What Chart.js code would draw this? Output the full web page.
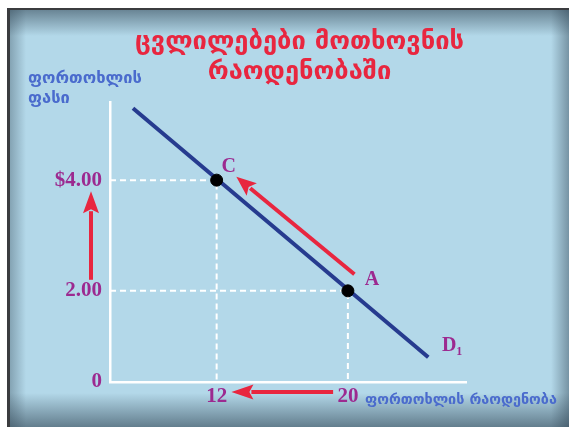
<!DOCTYPE html>
<html>
<head>
<meta charset="utf-8">
<style>
  html, body { margin: 0; padding: 0; background: #fff; }
  #frame {
    position: absolute; left: 7px; top: 8px; width: 562px; height: 419px;
    box-sizing: border-box;
    border-top: 2px solid #3b3c3f; border-left: 3px solid #3b3c3f;
    background:
      linear-gradient(to bottom, rgba(45,65,80,.55), rgba(45,65,80,0) 26px),
      linear-gradient(to top, rgba(45,65,80,.6), rgba(45,65,80,0) 34px),
      linear-gradient(to right, rgba(45,65,80,.35), rgba(45,65,80,0) 16px),
      linear-gradient(to left, rgba(45,65,80,.45), rgba(45,65,80,0) 18px),
      #b3d8e9;
  }
  #wrap { position: absolute; left: 0; top: 0; width: 569px; height: 427px; }
</style>
<script src="https://cdn.jsdelivr.net/npm/chart.js@4"></script>
</head>
<body>
<div id="frame"></div>
<div id="wrap"><canvas id="c" width="569" height="427"></canvas></div>
<script>
// Texts
const titleLines = ['ცვლილებები მოთხოვნის', 'რაოდენობაში'];
const yAxisTitle = ['ფორთოხლის', 'ფასი'];
const xAxisTitle = 'ფორთოხლის რაოდენობა';

// Points on the demand curve
const pointNames = ['C', 'A'];
const quantities = [12, 20];
const prices = [4.00, 2.00];

// Demand curve D1 end points
const demandQty = [6.9, 24.9];
const demandPrice = [5.3, 0.8];

// Axis ranges and ticks
const xRange = [5.5, 27.2];
const yRange = [0.353, 5.40];
const xTickValues = [12, 20];
const xTickLabels = ['12', '20'];
const yTickValues = [yRange[0], 2, 4];
const yTickLabels = ['0', '2.00', '$4.00'];

// Arrows showing the movement from A to C
const priceArrow = [2.2, 3.8];          // price values, tail -> tip
const qtyArrow = [19.1, 12.9];          // quantity values, tail -> tip
const moveArrowQty = [20.4, 13.2];      // tail -> tip
const moveArrowPrice = [2.3, 4.06];

const PURPLE = '#9c2a90';
const RED = '#e8263f';
const NAVY = '#263b8f';
const BLUE = '#4a6bcd';

function guide(i) {
  return {
    data: [
      { x: xRange[0], y: prices[i] },
      { x: quantities[i], y: prices[i] },
      { x: quantities[i], y: yRange[0] }
    ],
    showLine: true, borderColor: '#ffffff', borderWidth: 2,
    borderDash: [6, 4], pointRadius: 0, order: 3, fill: false
  };
}

function arrow(ctx, x1, y1, x2, y2, headLen, headW, lw) {
  const a = Math.atan2(y2 - y1, x2 - x1);
  const bx = x2 - Math.cos(a) * headLen, by = y2 - Math.sin(a) * headLen;
  ctx.save();
  ctx.strokeStyle = RED; ctx.fillStyle = RED; ctx.lineWidth = lw; ctx.lineCap = 'butt';
  ctx.beginPath(); ctx.moveTo(x1, y1); ctx.lineTo(bx + Math.cos(a) * 2, by + Math.sin(a) * 2); ctx.stroke();
  const nx = -Math.sin(a) * headW / 2, ny = Math.cos(a) * headW / 2;
  ctx.beginPath();
  ctx.moveTo(x2, y2);
  ctx.lineTo(bx + nx, by + ny);
  ctx.lineTo(bx + Math.cos(a) * 4, by + Math.sin(a) * 4);
  ctx.lineTo(bx - nx, by - ny);
  ctx.closePath(); ctx.fill();
  ctx.restore();
}

const extras = {
  id: 'extras',
  afterDatasetsDraw(chart) {
    const ctx = chart.ctx, xs = chart.scales.x, ys = chart.scales.y;
    const area = chart.chartArea;

    // arrows
    const ax = area.left - 19;
    arrow(ctx, ax, ys.getPixelForValue(priceArrow[0]), ax, ys.getPixelForValue(priceArrow[1]), 22, 16, 4);
    const ay = area.bottom + 10;
    arrow(ctx, xs.getPixelForValue(qtyArrow[0]), ay, xs.getPixelForValue(qtyArrow[1]), ay, 22, 15, 4);
    arrow(ctx, xs.getPixelForValue(moveArrowQty[0]), ys.getPixelForValue(moveArrowPrice[0]),
               xs.getPixelForValue(moveArrowQty[1]), ys.getPixelForValue(moveArrowPrice[1]), 20, 16, 4);

    // point names
    ctx.save();
    ctx.fillStyle = PURPLE;
    ctx.font = 'bold 20px "Liberation Serif"';
    ctx.textAlign = 'center'; ctx.textBaseline = 'middle';
    const offs = [[12, -13], [24, -11]];
    pointNames.forEach((n, i) => {
      ctx.fillText(n, xs.getPixelForValue(quantities[i]) + offs[i][0], ys.getPixelForValue(prices[i]) + offs[i][1]);
    });
    // curve name D1
    const ex = xs.getPixelForValue(demandQty[1]), ey = ys.getPixelForValue(demandPrice[1]);
    ctx.fillText('D', ex + 21, ey - 11);
    ctx.font = 'bold 12px "Liberation Serif"';
    ctx.fillText('1', ex + 31, ey - 5);

    // axis titles
    ctx.fillStyle = BLUE;
    ctx.font = 'bold 16.5px "DejaVu Sans"';
    ctx.textAlign = 'left';
    ctx.fillText(yAxisTitle[0], 28, 79);
    ctx.fillText(yAxisTitle[1], 28, 99);
    ctx.font = 'bold 14.4px "DejaVu Sans"';
    ctx.fillText(xAxisTitle, 365, 400);
    ctx.restore();
  }
};

new Chart(document.getElementById('c'), {
  type: 'scatter',
  data: {
    datasets: [
      {
        data: pointNames.map((n, i) => ({ x: quantities[i], y: prices[i] })),
        showLine: false, pointRadius: 6, pointHoverRadius: 6,
        pointBackgroundColor: '#000', pointBorderColor: '#000', order: 1
      },
      {
        data: demandQty.map((q, i) => ({ x: q, y: demandPrice[i] })),
        showLine: true, borderColor: NAVY, borderWidth: 4, pointRadius: 0, order: 2, fill: false
      },
      guide(0),
      guide(1)
    ]
  },
  options: {
    responsive: false,
    animation: false,
    layout: { padding: { left: 30, right: 0, top: 0, bottom: 0 } },
    plugins: {
      legend: { display: false },
      tooltip: { enabled: false },
      title: {
        display: true,
        text: titleLines,
        color: RED,
        font: { family: 'DejaVu Sans', size: 25.5, weight: 'bold', lineHeight: 1.15 },
        padding: { top: 28, bottom: 16 }
      }
    },
    scales: {
      x: {
        type: 'linear', min: xRange[0], max: xRange[1],
        grid: { display: false, drawTicks: false },
        border: { display: true, color: '#ffffff', width: 2.5 },
        afterBuildTicks: s => { s.ticks = xTickValues.map(v => ({ value: v })); },
        afterFit: s => { s.height = 45; },
        ticks: {
          padding: 2, color: PURPLE,
          font: { family: 'Liberation Serif', size: 21, weight: 'bold' },
          callback: (v) => xTickLabels[xTickValues.indexOf(v)]
        }
      },
      y: {
        type: 'linear', min: yRange[0], max: yRange[1],
        grid: { display: false, drawTicks: false },
        border: { display: true, color: '#ffffff', width: 2.5 },
        afterBuildTicks: s => { s.ticks = yTickValues.map(v => ({ value: v })); },
        afterFit: s => { s.width = 80; },
        ticks: {
          padding: 8, color: PURPLE,
          font: { family: 'Liberation Serif', size: 21, weight: 'bold' },
          callback: (v) => yTickLabels[yTickValues.indexOf(v)]
        }
      },
      y2: {
        type: 'linear', position: 'right', display: true,
        grid: { display: false, drawTicks: false },
        border: { display: false },
        ticks: { display: false },
        afterFit: s => { s.width = 103; }
      }
    }
  },
  plugins: [extras]
});
</script>
</body>
</html>
